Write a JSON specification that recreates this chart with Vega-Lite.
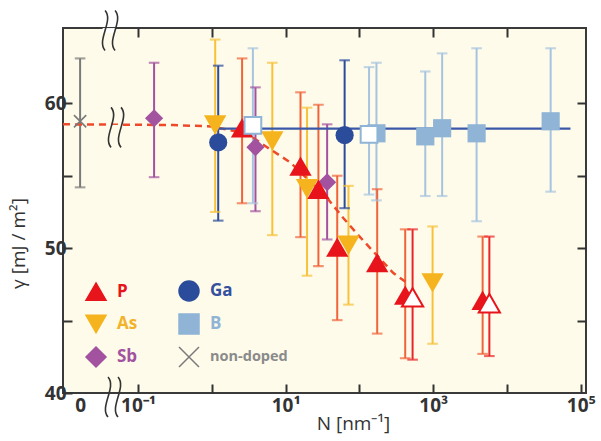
{
  "$schema": "https://vega.github.io/schema/vega-lite/v6.json",
  "width": 523,
  "height": 365,
  "autosize": "none",
  "padding": {"left": 63, "top": 28, "right": 15, "bottom": 48},
  "background": "white",
  "config": {
    "view": {"fill": "#FEFBEA", "stroke": "#3a3a3a", "strokeWidth": 2},
    "font": "Open Sans",
    "legend": {
      "orient": "none", "legendX": 22, "legendY": 252,
      "columns": 2, "rowPadding": 7, "columnPadding": 38, "padding": 0,
      "labelFontSize": 16, "labelFontWeight": "bold", "labelOffset": 10, "labelLimit": 200,
      "symbolSize": 400
    }
  },
  "datasets": {
    "pts": [
      {"series": "non-doped", "N": 0.0164, "g": 58.76, "lo": 54.2, "hi": 63.1, "open": false},
      {"series": "Sb", "N": 0.165, "g": 58.97, "lo": 54.9, "hi": 62.8, "open": false},
      {"series": "Sb", "N": 3.9, "g": 56.97, "lo": 52.55, "hi": 61.1, "open": false},
      {"series": "Sb", "N": 36.5, "g": 54.55, "lo": 50.6, "hi": 58.55, "open": false},
      {"series": "Ga", "N": 1.22, "g": 57.3, "lo": 51.9, "hi": 62.6, "open": false},
      {"series": "Ga", "N": 63, "g": 57.8, "lo": 52.76, "hi": 62.97, "open": false},
      {"series": "B", "N": 3.6, "g": 58.48, "lo": 53.1, "hi": 63.8, "open": true},
      {"series": "B", "N": 135, "g": 57.86, "lo": 53.7, "hi": 62.5, "open": true},
      {"series": "B", "N": 170, "g": 57.93, "lo": 53.3, "hi": 62.8, "open": false},
      {"series": "B", "N": 780, "g": 57.72, "lo": 53.6, "hi": 62.2, "open": false},
      {"series": "B", "N": 1320, "g": 58.28, "lo": 53.6, "hi": 63.45, "open": false},
      {"series": "B", "N": 3870, "g": 57.93, "lo": 51.86, "hi": 63.8, "open": false},
      {"series": "B", "N": 39000, "g": 58.76, "lo": 53.9, "hi": 63.8, "open": false},
      {"series": "As", "N": 1.11, "g": 58.5, "lo": 52.5, "hi": 64.4, "open": false},
      {"series": "As", "N": 6.6, "g": 57.4, "lo": 50.9, "hi": 62.8, "open": false},
      {"series": "As", "N": 19.5, "g": 54.1, "lo": 48.1, "hi": 59.7, "open": false},
      {"series": "As", "N": 71, "g": 50.2, "lo": 46.1, "hi": 54.3, "open": false},
      {"series": "As", "N": 980, "g": 47.6, "lo": 43.4, "hi": 51.5, "open": false},
      {"series": "P", "N": 2.57, "g": 58.3, "lo": 53.1, "hi": 63.1, "open": false},
      {"series": "P", "N": 15.9, "g": 55.66, "lo": 50.76, "hi": 60.76, "open": false},
      {"series": "P", "N": 27.8, "g": 54.07, "lo": 48.76, "hi": 59.9, "open": false},
      {"series": "P", "N": 50, "g": 50.07, "lo": 45.03, "hi": 55.0, "open": false},
      {"series": "P", "N": 174, "g": 49.0, "lo": 44.1, "hi": 54.07, "open": false},
      {"series": "P", "N": 417, "g": 46.76, "lo": 42.4, "hi": 51.3, "open": false},
      {"series": "P", "N": 4670, "g": 46.4, "lo": 42.7, "hi": 50.8, "open": false},
      {"series": "P", "N": 525, "g": 46.6, "lo": 42.3, "hi": 51.3, "open": true},
      {"series": "P", "N": 5760, "g": 46.2, "lo": 42.55, "hi": 50.8, "open": true}
    ],
    "dash": [
      {"N": 0.00962, "g": 58.55},
      {"N": 0.3, "g": 58.5},
      {"N": 1.0, "g": 58.4},
      {"N": 3.0, "g": 57.9},
      {"N": 5.6, "g": 56.97},
      {"N": 11.5, "g": 55.93},
      {"N": 36, "g": 53.5},
      {"N": 60, "g": 52.1},
      {"N": 102, "g": 50.76},
      {"N": 288, "g": 48.28},
      {"N": 447, "g": 47.59}
    ],
    "solid": [
      {"N": 1.2, "g": 58.25},
      {"N": 72400, "g": 58.25}
    ],
    "brk": [
      {"N": 0.0405, "g": 65.03},
      {"N": 0.0444, "g": 39.72},
      {"N": 0.0488, "g": 58.34}
    ]
  },
  "resolve": {"axis": {"x": "independent", "y": "independent"}},
  "layer": [
    {
      "data": {"name": "pts"},
      "mark": {"type": "rule", "strokeWidth": 2},
      "encoding": {
        "x": {
          "field": "N", "type": "quantitative",
          "scale": {"type": "log", "domain": [0.00962, 117490], "nice": false},
          "axis": {
            "orient": "bottom",
            "values": [0.0164, 0.1, 1, 10, 100, 1000, 10000, 100000],
            "labelExpr": "datum.value < 0.05 ? '0' : datum.value === 0.1 ? '10⁻¹' : datum.value === 10 ? '10¹' : datum.value === 1000 ? '10³' : datum.value === 100000 ? '10⁵' : ''",
            "tickSize": -9, "tickWidth": 2, "tickColor": "#333",
            "tickOpacity": {"condition": {"test": "datum.value < 0.05", "value": 0}, "value": 1},
            "domain": false, "grid": false,
            "labelFontSize": 19, "labelFontWeight": "bold", "labelColor": "#333", "labelPadding": 12,
            "labelFlush": false, "labelOverlap": false,
            "title": "N  [nm⁻¹]", "titleFontSize": 19, "titleColor": "#333", "titleFontWeight": "normal",
            "titleX": 290, "titleY": 21
          }
        },
        "y": {
          "field": "lo", "type": "quantitative",
          "scale": {"domain": [40, 65.2], "nice": false, "zero": false},
          "axis": {
            "orient": "left",
            "values": [40, 45, 50, 55, 60],
            "labelExpr": "datum.value % 10 === 0 ? datum.label : ''",
            "tickSize": -9, "tickWidth": 2, "tickColor": "#333",
            "domain": false, "grid": false,
            "labelFontSize": 19, "labelFontWeight": "bold", "labelColor": "#333", "labelPadding": 6,
            "title": "γ  [mJ / m²]", "titleFontSize": 19, "titleColor": "#333", "titleFontWeight": "normal",
            "titleX": -35, "titleY": 215
          }
        },
        "y2": {"field": "hi"},
        "stroke": {
          "condition": {"test": "datum.open && datum.series === 'P'", "value": "#E8262A"},
          "field": "series", "type": "nominal",
          "scale": {"range": ["#F7C23A", "#A6C4E0", "#2B4B9B", "#F0643A", "#A2529F", "#7A7A7A"]},
          "legend": null
        }
      }
    },
    {
      "data": {"name": "pts"},
      "mark": {"type": "tick", "orient": "horizontal", "size": 9, "thickness": 0.5, "filled": false, "strokeWidth": 1.6},
      "encoding": {
        "x": {"field": "N", "type": "quantitative", "axis": null},
        "y": {"field": "lo", "type": "quantitative", "axis": null},
        "stroke": {
          "condition": {"test": "datum.open && datum.series === 'P'", "value": "#E8262A"},
          "field": "series", "type": "nominal", "legend": null
        }
      }
    },
    {
      "data": {"name": "pts"},
      "mark": {"type": "tick", "orient": "horizontal", "size": 9, "thickness": 0.5, "filled": false, "strokeWidth": 1.6},
      "encoding": {
        "x": {"field": "N", "type": "quantitative", "axis": null},
        "y": {"field": "hi", "type": "quantitative", "axis": null},
        "stroke": {
          "condition": {"test": "datum.open && datum.series === 'P'", "value": "#E8262A"},
          "field": "series", "type": "nominal", "legend": null
        }
      }
    },
    {
      "data": {"name": "dash"},
      "mark": {"type": "line", "strokeDash": [7, 5], "strokeWidth": 2.5, "color": "#EE4A2A"},
      "encoding": {
        "x": {
          "field": "N", "type": "quantitative",
          "axis": {"orient": "top", "values": [0.1, 1, 10, 100, 1000, 10000], "labels": false, "tickSize": -9, "tickWidth": 2, "tickColor": "#333", "domain": false, "grid": false, "title": null}
        },
        "y": {
          "field": "g", "type": "quantitative",
          "axis": {"orient": "right", "values": [45, 50, 55, 60], "labels": false, "tickSize": -9, "tickWidth": 2, "tickColor": "#333", "domain": false, "grid": false, "title": null}
        }
      }
    },
    {
      "data": {"name": "solid"},
      "mark": {"type": "line", "strokeWidth": 2.2, "color": "#3B58A8"},
      "encoding": {
        "x": {"field": "N", "type": "quantitative", "axis": null},
        "y": {"field": "g", "type": "quantitative", "axis": null}
      }
    },
    {
      "data": {"name": "brk"},
      "mark": {"type": "point", "filled": true, "shape": "M-0.32,-0.12H0.32V0.12H-0.32Z", "size": 1600, "strokeWidth": 0, "opacity": 1},
      "encoding": {
        "x": {"field": "N", "type": "quantitative", "axis": null},
        "y": {"field": "g", "type": "quantitative", "axis": null},
        "fill": {"condition": {"test": "datum.g > 45 && datum.g < 62", "value": "#FEFBEA"}, "value": "white"}
      }
    },
    {
      "data": {"name": "brk"},
      "mark": {"type": "point", "filled": false, "shape": "M-0.2,-1C0.25,-0.5 -0.65,0.5 -0.2,1M0.3,-1C0.75,-0.5 -0.15,0.5 0.3,1", "size": 1600, "strokeWidth": 1.6, "color": "#333", "opacity": 1},
      "encoding": {
        "x": {"field": "N", "type": "quantitative", "axis": null},
        "y": {"field": "g", "type": "quantitative", "axis": null}
      }
    },
    {
      "data": {"name": "pts"},
      "transform": [{"filter": "!datum.open && (datum.series === 'Ga' || datum.series === 'B' || datum.series === 'Sb')"}],
      "mark": {"type": "point", "filled": true, "opacity": 1, "size": 330},
      "encoding": {
        "x": {"field": "N", "type": "quantitative", "axis": null},
        "y": {"field": "g", "type": "quantitative", "axis": null},
        "color": {
          "field": "series", "type": "nominal",
          "scale": {"domain": ["P", "As", "Sb", "Ga", "B", "non-doped"], "range": ["#E8141C", "#F5B41E", "#A2529F", "#2B4B9B", "#8FB4D6", "#7A7A7A"]},
          "legend": {
            "title": null,
            "labelColor": {"expr": "datum.value === 'P' ? '#E8141C' : datum.value === 'As' ? '#F2B22A' : datum.value === 'Sb' ? '#A2529F' : datum.value === 'Ga' ? '#34509F' : datum.value === 'B' ? '#8FB4D6' : '#8A8A8A'"},
            "labelFontSize": {"expr": "datum.value === 'non-doped' ? 14.5 : 17"}
          }
        },
        "shape": {
          "field": "series", "type": "nominal",
          "scale": {"domain": ["P", "As", "Sb", "Ga", "B", "non-doped"], "range": ["triangle-up", "triangle-down", "diamond", "circle", "square", "M-1,-1L1,1M-1,1L1,-1"]},
          "legend": {
            "title": null,
            "labelColor": {"expr": "datum.value === 'P' ? '#E8141C' : datum.value === 'As' ? '#F2B22A' : datum.value === 'Sb' ? '#A2529F' : datum.value === 'Ga' ? '#34509F' : datum.value === 'B' ? '#8FB4D6' : '#8A8A8A'"},
            "labelFontSize": {"expr": "datum.value === 'non-doped' ? 14.5 : 17"}
          }
        }
      }
    },
    {
      "data": {"name": "pts"},
      "transform": [{"filter": "!datum.open && (datum.series === 'P' || datum.series === 'As')"}],
      "mark": {"type": "point", "filled": true, "opacity": 1, "size": 500},
      "encoding": {
        "x": {"field": "N", "type": "quantitative", "axis": null},
        "y": {"field": "g", "type": "quantitative", "axis": null},
        "color": {"field": "series", "type": "nominal"},
        "shape": {"field": "series", "type": "nominal"}
      }
    },
    {
      "data": {"name": "pts"},
      "transform": [{"filter": "datum.open && datum.series === 'P'"}],
      "mark": {"type": "point", "filled": false, "fill": "white", "opacity": 1, "strokeWidth": 2, "size": 450},
      "encoding": {
        "x": {"field": "N", "type": "quantitative", "axis": null},
        "y": {"field": "g", "type": "quantitative", "axis": null},
        "color": {"field": "series", "type": "nominal"},
        "shape": {"field": "series", "type": "nominal"}
      }
    },
    {
      "data": {"name": "pts"},
      "transform": [{"filter": "datum.open && datum.series === 'B'"}],
      "mark": {"type": "point", "filled": false, "fill": "white", "opacity": 1, "strokeWidth": 2, "size": 280},
      "encoding": {
        "x": {"field": "N", "type": "quantitative", "axis": null},
        "y": {"field": "g", "type": "quantitative", "axis": null},
        "color": {"field": "series", "type": "nominal"},
        "shape": {"field": "series", "type": "nominal"}
      }
    },
    {
      "data": {"name": "pts"},
      "transform": [{"filter": "datum.series === 'non-doped'"}],
      "mark": {"type": "point", "filled": false, "opacity": 1, "strokeWidth": 1.6, "size": 150},
      "encoding": {
        "x": {"field": "N", "type": "quantitative", "axis": null},
        "y": {"field": "g", "type": "quantitative", "axis": null},
        "color": {"field": "series", "type": "nominal"},
        "shape": {"field": "series", "type": "nominal"}
      }
    }
  ]
}
